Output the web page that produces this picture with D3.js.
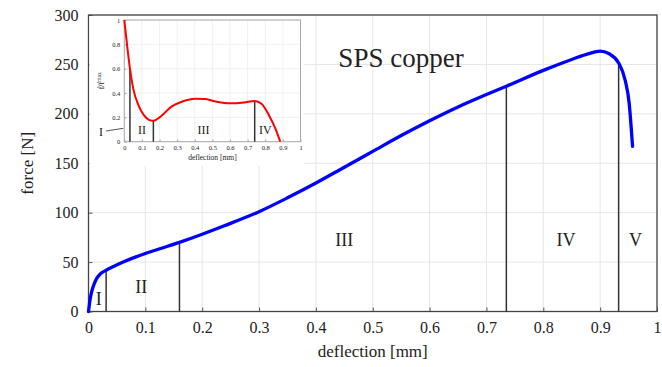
<!DOCTYPE html>
<html>
<head>
<meta charset="utf-8">
<script src="https://cdn.jsdelivr.net/npm/d3@7"></script>
<style>
  body { margin: 0; background: #fff; }
  text { font-family: "Liberation Serif", "Times New Roman", serif; fill: #222; }
</style>
</head>
<body>
<div id="chart"></div>
<script>
// main curve: force vs deflection
const deflection = [0, 0.003, 0.006, 0.01, 0.015, 0.02, 0.025, 0.031, 0.045, 0.06, 0.08, 0.1, 0.13, 0.16, 0.2, 0.24, 0.3, 0.35, 0.4, 0.45, 0.5, 0.55, 0.6, 0.65, 0.7, 0.735, 0.8, 0.85, 0.88, 0.9, 0.915, 0.9325, 0.944, 0.951, 0.957];
const force = [0, 13, 21, 28, 34, 37.5, 39.8, 41.8, 45.8, 49.8, 54.5, 58.7, 64.3, 70, 78.2, 87, 101, 115, 130, 146, 162, 178, 193, 207, 219.5, 228, 244, 255, 261, 263.5, 261, 251.5, 234, 211, 167];

// stage boundaries (main)
const stageX = [0.031, 0.16, 0.735, 0.9325];
const stageForce = [41.8, 70, 228, 251.5];
const stageNames = ["I", "II", "III", "IV", "V"];
const stageLabelX = [0.018, 0.093, 0.45, 0.84, 0.962];
const stageLabelY = [13, 25, 73, 73, 73];

// inset: normalised rate vs deflection
const insetDefl = [0, 0.01, 0.02, 0.032, 0.05, 0.08, 0.11, 0.14, 0.165, 0.2, 0.27, 0.33, 0.4, 0.46, 0.52, 0.6, 0.68, 0.74, 0.78, 0.82, 0.86, 0.885];
const insetRate = [1, 0.87, 0.74, 0.6, 0.44, 0.3, 0.22, 0.18, 0.172, 0.2, 0.29, 0.33, 0.353, 0.35, 0.33, 0.315, 0.322, 0.334, 0.31, 0.22, 0.1, 0];
const insetStageX = [0.032, 0.165, 0.74];
const insetStageRate = [0.6, 0.172, 0.334];
const insetNames = ["II", "III", "IV"];
const insetLabelX = [0.1, 0.45, 0.8];

const xTicks = [0, 0.1, 0.2, 0.3, 0.4, 0.5, 0.6, 0.7, 0.8, 0.9, 1];
const yTicks = [0, 50, 100, 150, 200, 250, 300];
const insetYTicks = [0, 0.2, 0.4, 0.6, 0.8, 1];

const W = 662, H = 367;
const svg = d3.select("#chart").append("svg")
  .attr("width", W).attr("height", H);

const x = d3.scaleLinear().domain([0, 1]).range([88.5, 657]);
const y = d3.scaleLinear().domain([0, 300]).range([311.5, 15]);
const fmt = d => d === 0 ? "0" : d === 1 ? "1" : d3.format(".1f")(d);

// grid
svg.append("g").selectAll("line").data(xTicks).join("line")
  .attr("x1", d => x(d)).attr("x2", d => x(d))
  .attr("y1", y(0)).attr("y2", y(300))
  .attr("stroke", "#e6e6e6").attr("stroke-width", 1);
svg.append("g").selectAll("line").data(yTicks).join("line")
  .attr("x1", x(0)).attr("x2", x(1))
  .attr("y1", d => y(d)).attr("y2", d => y(d))
  .attr("stroke", "#e6e6e6").attr("stroke-width", 1);

// axes
const xAxis = d3.axisBottom(x).tickValues(xTicks).tickFormat(fmt).tickSize(-4).tickPadding(10);
const yAxis = d3.axisLeft(y).tickValues(yTicks).tickSize(-4).tickPadding(10);
const gx = svg.append("g").attr("transform", `translate(0,${y(0)})`).call(xAxis);
const gy = svg.append("g").attr("transform", `translate(${x(0)},0)`).call(yAxis);
[gx, gy].forEach(g => {
  g.select(".domain").remove();
  g.selectAll("line").attr("stroke", "#555");
  g.selectAll("text").style("font-family", "Liberation Serif").style("font-size", "16px").attr("fill", "#222");
});
gx.selectAll("text").attr("dy", "0.72em");

// frame
svg.append("rect")
  .attr("x", x(0)).attr("y", y(300))
  .attr("width", x(1) - x(0)).attr("height", y(0) - y(300))
  .attr("fill", "none").attr("stroke", "#444").attr("stroke-width", 1.3);

// stage lines
svg.append("g").selectAll("line").data(stageX).join("line")
  .attr("x1", d => x(d)).attr("x2", d => x(d))
  .attr("y1", y(0)).attr("y2", (d, i) => y(stageForce[i]))
  .attr("stroke", "#333").attr("stroke-width", 1.5);

// main curve
const line = d3.line().x(d => x(d[0])).y(d => y(d[1])).curve(d3.curveMonotoneX);
svg.append("path")
  .datum(deflection.map((d, i) => [d, force[i]]))
  .attr("d", line)
  .attr("fill", "none").attr("stroke", "#0000ff").attr("stroke-width", 3.3)
  .attr("stroke-linecap", "round");

// stage labels
svg.append("g").selectAll("text").data(stageNames).join("text")
  .attr("x", (d, i) => x(stageLabelX[i])).attr("y", (d, i) => y(stageLabelY[i]))
  .attr("text-anchor", "middle").attr("dy", "0.35em")
  .style("font-size", "18px").text(d => d);

// axis titles
svg.append("text").attr("x", x(0.5)).attr("y", 357)
  .attr("text-anchor", "middle").style("font-size", "17px").text("deflection [mm]");
svg.append("text").attr("transform", `translate(33,${y(150)}) rotate(-90)`)
  .attr("text-anchor", "middle").style("font-size", "17px").text("force [N]");

svg.append("text").attr("x", 401).attr("y", 67)
  .attr("text-anchor", "middle").style("font-size", "27px").text("SPS copper");

// ---------- inset ----------
svg.append("rect").attr("x", x(0) + 1).attr("y", y(300) + 1)
  .attr("width", 215).attr("height", 150).attr("fill", "#fff");

const ix = d3.scaleLinear().domain([0, 1]).range([124.3, 300.5]);
const iy = d3.scaleLinear().domain([0, 1]).range([141.7, 20]);
const ins = svg.append("g");

ins.append("g").selectAll("line").data(xTicks).join("line")
  .attr("x1", d => ix(d)).attr("x2", d => ix(d))
  .attr("y1", iy(0)).attr("y2", iy(1))
  .attr("stroke", "#ececec").attr("stroke-width", 0.8);
ins.append("g").selectAll("line").data(insetYTicks).join("line")
  .attr("x1", ix(0)).attr("x2", ix(1))
  .attr("y1", d => iy(d)).attr("y2", d => iy(d))
  .attr("stroke", "#ececec").attr("stroke-width", 0.8);

const ixAxis = d3.axisBottom(ix).tickValues(xTicks).tickFormat(fmt).tickSize(-2).tickPadding(4);
const iyAxis = d3.axisLeft(iy).tickValues(insetYTicks).tickFormat(fmt).tickSize(-2).tickPadding(4);
const igx = ins.append("g").attr("transform", `translate(0,${iy(0)})`).call(ixAxis);
const igy = ins.append("g").attr("transform", `translate(${ix(0)},0)`).call(iyAxis);
[igx, igy].forEach(g => {
  g.select(".domain").remove();
  g.selectAll("line").attr("stroke", "#999");
  g.selectAll("text").style("font-family", "Liberation Serif").style("font-size", "6.5px").attr("fill", "#333");
});

ins.append("rect")
  .attr("x", ix(0)).attr("y", iy(1))
  .attr("width", ix(1) - ix(0)).attr("height", iy(0) - iy(1))
  .attr("fill", "none").attr("stroke", "#aaa").attr("stroke-width", 1);

ins.append("g").selectAll("line").data(insetStageX).join("line")
  .attr("x1", d => ix(d)).attr("x2", d => ix(d))
  .attr("y1", iy(0)).attr("y2", (d, i) => iy(insetStageRate[i]))
  .attr("stroke", "#333").attr("stroke-width", 1.5);

const iline = d3.line().x(d => ix(d[0])).y(d => iy(d[1])).curve(d3.curveMonotoneX);
ins.append("path")
  .datum(insetDefl.map((d, i) => [d, insetRate[i]]))
  .attr("d", iline)
  .attr("fill", "none").attr("stroke", "#ff0000").attr("stroke-width", 2);

ins.append("g").selectAll("text").data(insetNames).join("text")
  .attr("x", (d, i) => ix(insetLabelX[i])).attr("y", iy(0.1))
  .attr("text-anchor", "middle").attr("dy", "0.35em")
  .style("font-size", "12px").text(d => d);

// "I" label outside with pointer
ins.append("line").attr("x1", 106).attr("y1", 131).attr("x2", ix(0) - 1).attr("y2", iy(0.11))
  .attr("stroke", "#555").attr("stroke-width", 1);
ins.append("text").attr("x", 101).attr("y", 132).attr("text-anchor", "middle")
  .attr("dy", "0.35em").style("font-size", "12px").text("I");

ins.append("text").attr("x", ix(0.5)).attr("y", 160)
  .attr("text-anchor", "middle").style("font-size", "7.5px").attr("fill", "#333").text("deflection [mm]");
const yl = ins.append("text").attr("transform", `translate(104,${iy(0.5)}) rotate(-90)`)
  .attr("text-anchor", "middle").style("font-size", "8px").attr("fill", "#333");
yl.append("tspan").text("ḟ/ḟ");
yl.append("tspan").attr("dy", -3).style("font-size", "5.5px").text("max");
</script>
</body>
</html>
